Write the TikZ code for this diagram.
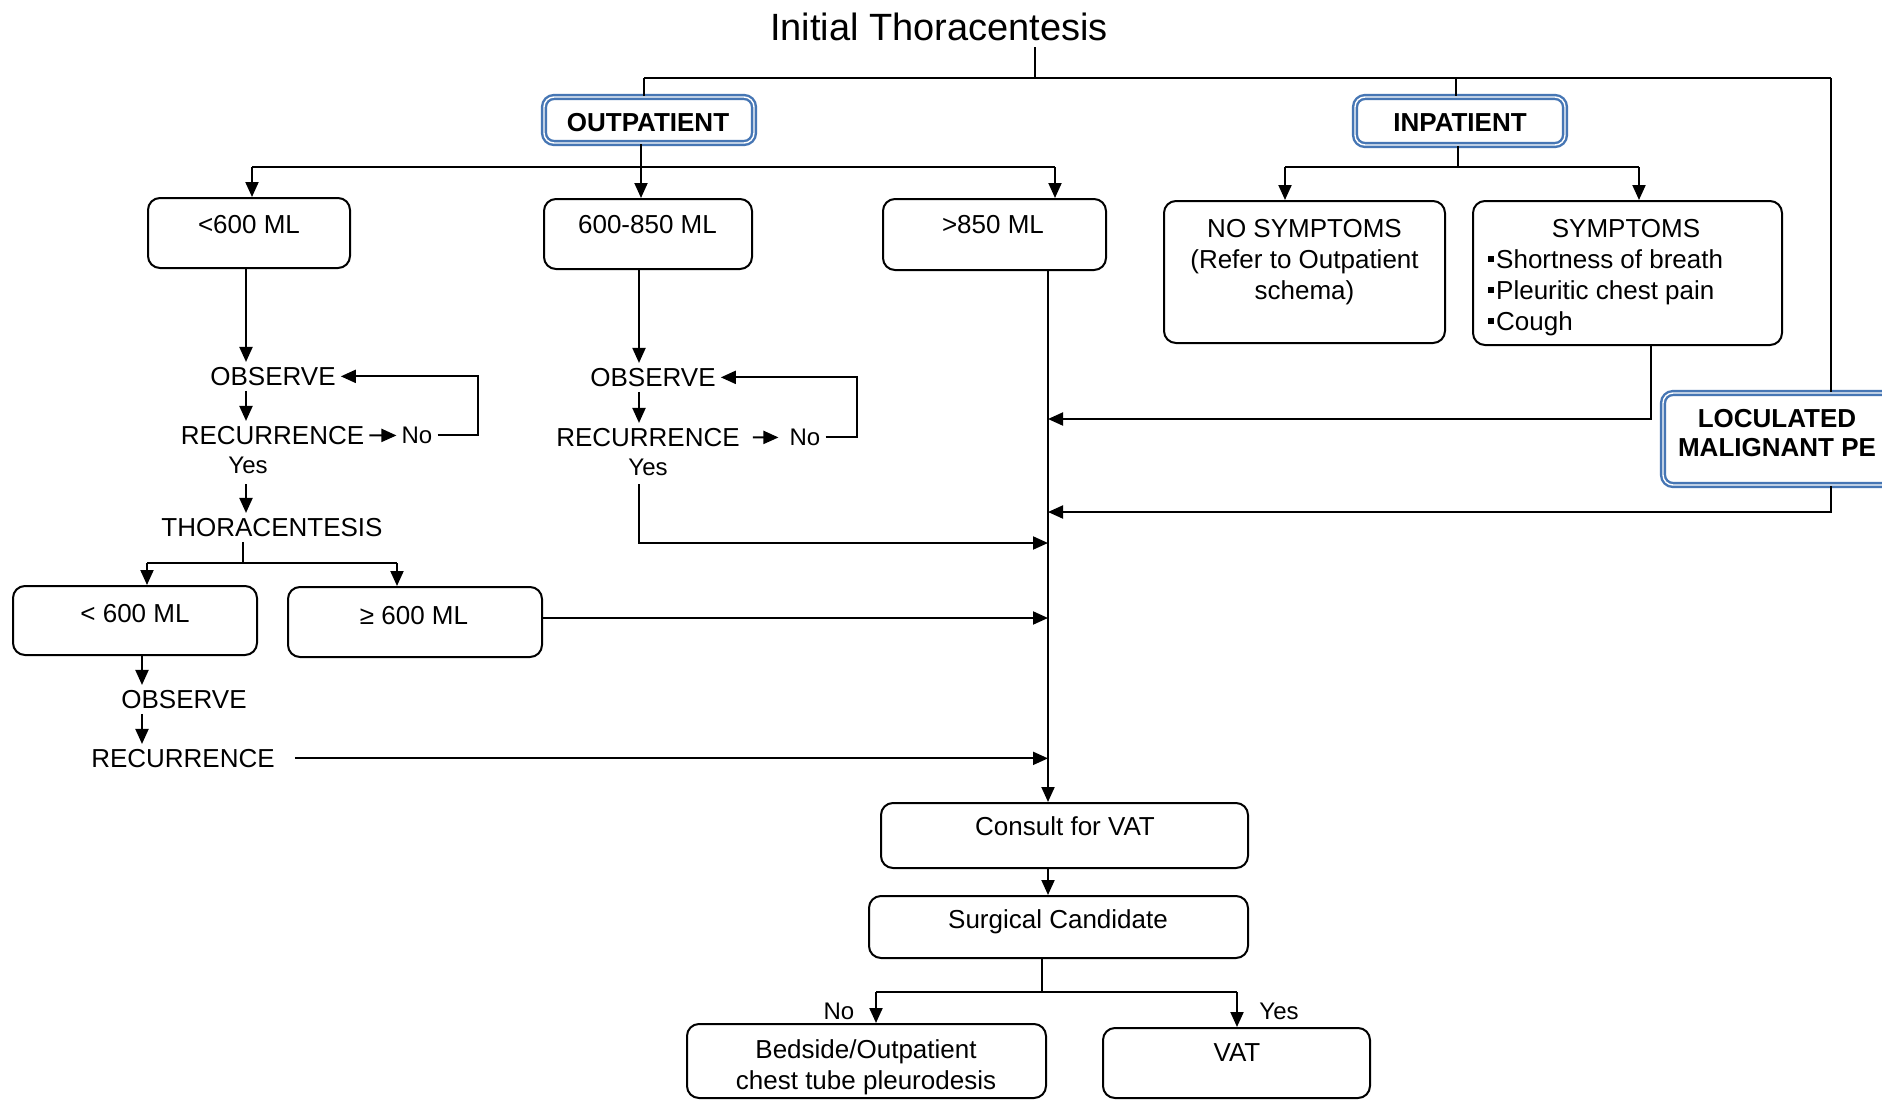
\documentclass[tikz,border=0pt]{standalone}
\usepackage{fontspec}
\setmainfont{Liberation Sans}
\usetikzlibrary{arrows.meta,fit}
\definecolor{bluec}{RGB}{70,118,180}
\newcommand\szN{\fontsize{26}{31}\selectfont}
\newcommand\szS{\fontsize{24}{29}\selectfont}
\newcommand\szT{\fontsize{38}{44}\selectfont}
\newcommand\szB{\fontsize{26}{29}\selectfont\bfseries}
\newcommand\bul{\rule[6.5pt]{6pt}{6pt}\hspace{2pt}}
\begin{document}
\begin{tikzpicture}[x=1pt,y=-1pt,
  box/.style={draw=black, line width=2pt, rounded corners=12pt, fill=white, inner sep=0pt},
  bbox/.style={draw=bluec, line width=2.4pt, double=white, double distance=1.4pt, rounded corners=10pt, fill=white, inner sep=0pt},
  txt/.style={inner sep=5pt, anchor=base, font=\szN},
  sm/.style={inner sep=5pt, anchor=base, font=\szS},
  ln/.style={line width=2pt},
  arr/.style={line width=2pt, -{Triangle[length=15pt,width=13pt]}}]
\fill[white] (0,0) rectangle (1882,1100);
\path[use as bounding box] (0,0) rectangle (1882,1100);
\clip (0,0) rectangle (1882,1100);

% ---------- title and top level ----------
\node[font=\szT, inner sep=0pt, anchor=base] (title) at (939,40.6) {Initial Thoracentesis};
\node[bbox, fit={(544,97) (754,143)}] (outp) {};
\node[txt, font=\szN\bfseries] (outpt) at (648,131.3) {OUTPATIENT};
\node[bbox, fit={(1355,97) (1565,145)}] (inp) {};
\node[txt, font=\szN\bfseries] (inpt) at (1460,131.3) {INPATIENT};

% ---------- boxes ----------
\node[box, fit={(148,198) (350,268)}] (b1) {};
\node[txt] (b1t) at (249,233.3) {<600 ML};
\node[box, fit={(544,199) (752,269)}] (b2) {};
\node[txt] (b2t) at (647.5,233.3) {600-850 ML};
\node[box, fit={(883,199) (1106,270)}] (b3) {};
\node[txt] (b3t) at (993,233.3) {>850 ML};
\node[box, fit={(1164,201) (1445,343)}] (nos) {};
\node[txt] (nost) at (1304.5,237.3) {\begin{tabular}[t]{@{}c@{}}NO SYMPTOMS\\(Refer to Outpatient\\schema)\end{tabular}};
\node[box, fit={(1473,201) (1782,345)}] (sym) {};
\node[txt] (symt) at (1626,237.3) {SYMPTOMS};
\node[txt, anchor=base west] (syml) at (1483,268.3) {\begin{tabular}[t]{@{}l@{}}\bul Shortness of breath\\\bul Pleuritic chest pain\\\bul Cough\end{tabular}};
\node[bbox, fit={(1663,393) (1900,485)}] (loc) {};
\node[txt, font=\szB] (loct) at (1777,427.3) {\begin{tabular}[t]{@{}c@{}}LOCULATED\\MALIGNANT PE\end{tabular}};

% ---------- left column ----------
\node[txt] (obsA) at (273,385.3) {OBSERVE};
\node[txt] (recA) at (272.5,444.3) {RECURRENCE};
\node[sm] (noA) at (417,443.6) {No};
\node[sm] (yesA) at (248,473.6) {Yes};
\node[txt] (thor) at (272,536.3) {THORACENTESIS};
\node[box, fit={(13,586) (257,655)}] (b4) {};
\node[txt] (b4t) at (135,622.3) {< 600 ML};
\node[box, fit={(288,587) (542,657)}] (b5) {};
\node[txt] (b5t) at (414,624.3) {≥ 600 ML};
\node[txt] (obsB) at (184,708.3) {OBSERVE};
\node[txt] (recB) at (183,767.3) {RECURRENCE};

% ---------- middle column ----------
\node[txt] (obsM) at (653,386.3) {OBSERVE};
\node[txt] (recM) at (648,446.3) {RECURRENCE};
\node[sm] (noM) at (805,445.6) {No};
\node[sm] (yesM) at (648,475.6) {Yes};

% ---------- bottom ----------
\node[box, fit={(881,803) (1248,868)}] (con) {};
\node[txt] (cont) at (1065,835.3) {Consult for VAT};
\node[box, fit={(869,896) (1248,958)}] (sur) {};
\node[txt] (surt) at (1058,928.3) {Surgical Candidate};
\node[sm] (noS) at (839,1019.6) {No};
\node[sm] (yesS) at (1279,1019.6) {Yes};
\node[box, fit={(687,1024) (1046,1098)}] (bed) {};
\node[txt] (bedt) at (866,1058.3) {\begin{tabular}[t]{@{}c@{}}Bedside/Outpatient\\chest tube pleurodesis\end{tabular}};
\node[box, fit={(1103,1028) (1370,1098)}] (vat) {};
\node[txt] (vatt) at (1237,1061.3) {VAT};

% ---------- coordinates ----------
\coordinate (stem) at (1035,47);
\coordinate (j0) at (1035,78);
\coordinate (oj) at (644,78);
\coordinate (ij) at (1456,78);
\coordinate (rj) at (1831,78);
\coordinate (oh) at (641,167);
\coordinate (ohL) at (252,167);
\coordinate (ohR) at (1055,167);
\coordinate (ih) at (1458,167);
\coordinate (ihL) at (1285,167);
\coordinate (ihR) at (1639,167);
\coordinate (cA) at (246,0);
\coordinate (cB) at (142,0);
\coordinate (cM) at (639,0);
\coordinate (trunk) at (1048,0);
\coordinate (loopA) at (478,0);
\coordinate (loopM) at (857,0);
\coordinate (thj) at (243,563);
\coordinate (tL) at (147,563);
\coordinate (tR) at (397,563);
\coordinate (r5) at (0,618);
\coordinate (ym) at (639,543);
\coordinate (sx) at (1651,419);
\coordinate (lx) at (1831,512);
\coordinate (sj) at (1042,992);
\coordinate (sL) at (876,992);
\coordinate (sR) at (1237,992);

% ---------- top connectors ----------
\draw[ln] (stem) -- (j0);
\draw[ln] (oj) -- (rj);
\draw[ln] (oj) -- (oj |- outp.north);
\draw[ln] (ij) -- (ij |- inp.north);
\draw[ln] (rj) -- (rj |- loc.north);
\draw[arr] (loc.south -| lx) -- (lx) -- (lx -| trunk);

\draw[ln] (oh |- outp.south) -- (oh);
\draw[ln] (ohL) -- (ohR);
\draw[arr] (ohL) -- (ohL |- b1.north);
\draw[arr] (oh) -- (oh |- b2.north);
\draw[arr] (ohR) -- (ohR |- b3.north);

\draw[ln] (ih |- inp.south) -- (ih);
\draw[ln] (ihL) -- (ihR);
\draw[arr] (ihL) -- (ihL |- nos.north);
\draw[arr] (ihR) -- (ihR |- sym.north);
\draw[arr] (sym.south -| sx) -- (sx) -- (sx -| trunk);

% ---------- left column connectors ----------
\draw[arr] (b1.south -| cA) -- (obsA.north -| cA);
\draw[arr] (obsA.south -| cA) -- (recA.north -| cA);
\draw[arr] (recA.east) -- (noA.west);
\draw[arr] (noA.east) -- (noA.east -| loopA) -- (obsA.east -| loopA) -- (obsA.east);
\draw[arr, shorten <=5pt] (yesA.south -| cA) -- (thor.north -| cA);
\draw[ln] (thor.south -| thj) -- (thj);
\draw[ln] (tL) -- (tR);
\draw[arr] (tL) -- (tL |- b4.north);
\draw[arr] (tR) -- (tR |- b5.north);
\draw[arr] (b5.east |- r5) -- (r5 -| trunk);
\draw[arr] (b4.south -| cB) -- (obsB.north -| cB);
\draw[arr] (obsB.south -| cB) -- (recB.north -| cB);
\draw[arr, shorten <=15pt] (recB.east) -- (recB.east -| trunk);

% ---------- middle column connectors ----------
\draw[arr] (b2.south -| cM) -- (obsM.north -| cM);
\draw[arr] (obsM.south -| cM) -- (recM.north -| cM);
\draw[arr, shorten <=8pt, shorten >=6pt] (recM.east) -- (noM.west);
\draw[arr] (noM.east) -- (noM.east -| loopM) -- (obsM.east -| loopM) -- (obsM.east);
\draw[arr, shorten <=3pt] (yesM.south -| ym) -- (ym) -- (ym -| trunk);

% ---------- trunk and bottom ----------
\draw[arr] (b3.south -| trunk) -- (con.north -| trunk);
\draw[arr] (con.south -| trunk) -- (sur.north -| trunk);
\draw[ln] (sur.south -| sj) -- (sj);
\draw[ln] (sL) -- (sR);
\draw[arr] (sL) -- (sL |- bed.north);
\draw[arr] (sR) -- (sR |- vat.north);
\end{tikzpicture}
\end{document}
